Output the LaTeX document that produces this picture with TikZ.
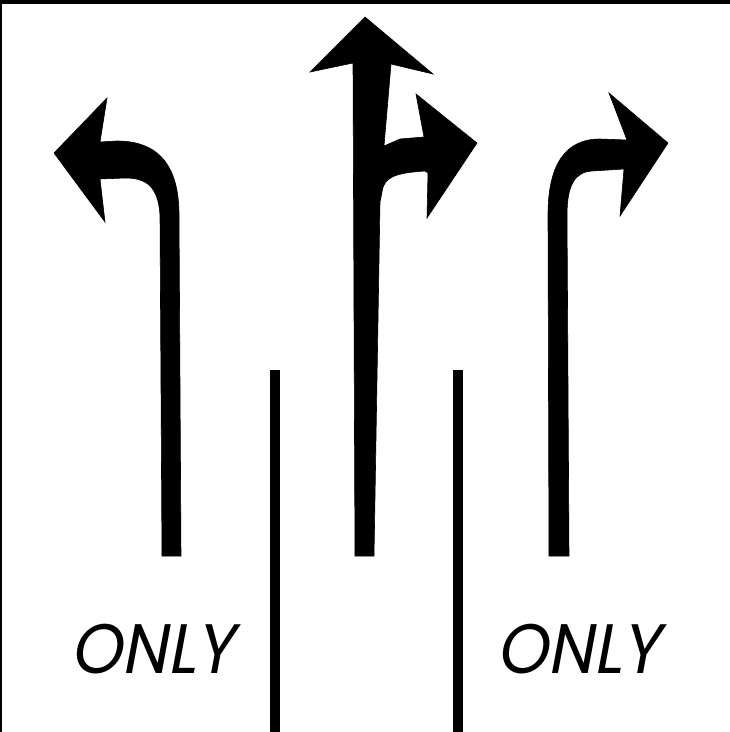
\documentclass[tikz,border=0pt]{standalone}
\usepackage{fontspec}
\usepackage{tikz}
\usetikzlibrary{positioning,calc}
\newfontfamily\signfont[FakeSlant=0.2]{Poppins}
\tikzset{
  lanearrow/.style={fill=black, draw=black, line width=0.6pt, line join=miter},
  divider/.style={draw=black, line width=10pt},
  onlytext/.style={anchor=base, inner sep=0pt, font=\signfont\fontsize{70}{70}\selectfont, xscale=0.93}
}

\begin{document}
\begin{tikzpicture}[x=1pt, y=-1pt]
    \useasboundingbox (0,0) rectangle (730,732);

    % Frame
    \draw[line width=4pt] (0,2) -- (730,2);
    \draw[line width=2pt] (1,0) -- (1,732);

    % Left turn arrow
    \draw[lanearrow] (162,556) -- (160,215)
        .. controls (158,185) and (145,178) .. (125,178) -- (100,179)
        -- (105,222) -- (54,153) -- (107,98) -- (100,142) -- (117,141)
        .. controls (162,141) and (179,170) .. (179,215) -- (181,556) -- cycle;

    % Straight and right arrow
    \draw[lanearrow] (355,556) -- (353,63) -- (310,72) -- (365,17) -- (433,74)
        -- (391,64) -- (384,146) -- (400,139) -- (424,137) -- (416,94)
        -- (477,143) -- (427,218) -- (428,173) -- (425,171)
        .. controls (395,173) and (384,177) .. (382,192) -- (380,202)
        -- (374,556) -- cycle;

    % Right turn arrow
    \draw[lanearrow] (549,556) -- (548,215)
        .. controls (548,165) and (565,139) .. (600,139) -- (627,140)
        -- (609,93) -- (668,143) -- (620,216) -- (624,169) -- (592,171)
        .. controls (575,172) and (567,185) .. (567,215) -- (569,556) -- cycle;

    % Lane dividers
    \draw[divider] (275,370) -- (275,732);
    \draw[divider] (458,370) -- (458,732);

    % Lane markings
    \node[onlytext] (onlyL) at (152,673) {ONLY};
    \node[onlytext] (onlyR) at (578,673) {ONLY};
\end{tikzpicture}
\end{document}
